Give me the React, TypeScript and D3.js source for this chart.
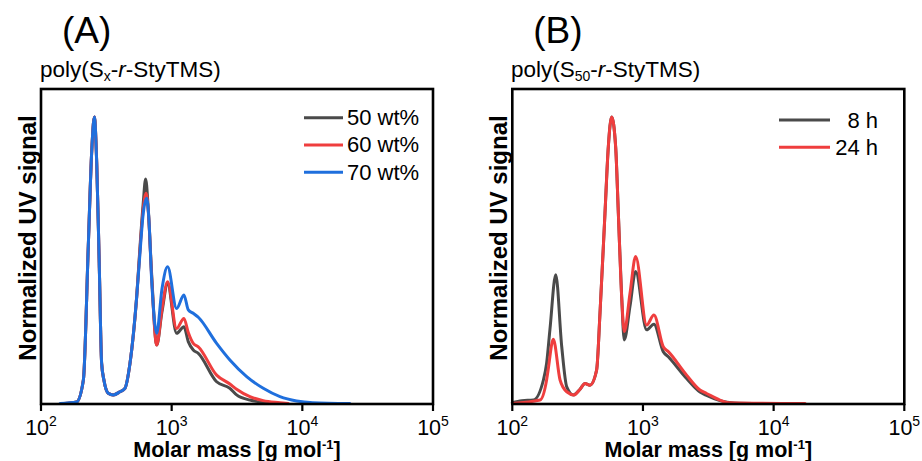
import React from "react";
import * as d3 from "d3";

// ---------- data (molar mass [g/mol], normalized UV signal) ----------
const seriesA_50: [number, number][] = [
  [150, 0], [187, 0.005], [211, 0.082], [230, 0.547], [244, 0.873], [256, 1.0], [267, 0.838],
  [279, 0.489], [291, 0.141], [303, 0.082], [327, 0.036], [357, 0.030], [402, 0.041], [439, 0.053],
  [480, 0.141], [540, 0.373], [571, 0.54], [606, 0.70], [632, 0.784], [660, 0.69], [703, 0.45],
  [768, 0.204], [843, 0.32], [931, 0.417], [1091, 0.245], [1241, 0.268], [1340, 0.216], [1463, 0.187],
  [1599, 0.175], [2208, 0.076], [2790, 0.053], [3141, 0.030], [3971, 0.012], [5023, 0.004], [6742, 0],
];
const seriesA_60: [number, number][] = [
  [150, 0], [187, 0.005], [211, 0.082], [230, 0.547], [244, 0.873], [256, 1.0], [267, 0.838],
  [279, 0.489], [291, 0.141], [303, 0.082], [327, 0.036], [357, 0.030], [402, 0.041], [439, 0.053],
  [480, 0.141], [540, 0.373], [571, 0.53], [606, 0.68], [638, 0.734], [665, 0.66], [703, 0.44],
  [768, 0.204], [843, 0.33], [931, 0.425], [1091, 0.262], [1241, 0.297], [1340, 0.248], [1463, 0.210],
  [1599, 0.198], [2208, 0.099], [2790, 0.068], [3141, 0.050], [3971, 0.024], [5023, 0.010], [6742, 0.003],
  [7800, 0],
];
const seriesA_70: [number, number][] = [
  [140, 0], [187, 0.005], [211, 0.082], [230, 0.547], [244, 0.873], [256, 1.0], [267, 0.838],
  [279, 0.489], [291, 0.141], [303, 0.082], [327, 0.036], [357, 0.030], [402, 0.041], [439, 0.053],
  [480, 0.141], [540, 0.373], [571, 0.52], [606, 0.664], [644, 0.716], [670, 0.64], [703, 0.431],
  [768, 0.245], [843, 0.40], [931, 0.477], [1091, 0.332], [1241, 0.379], [1340, 0.327], [1463, 0.315],
  [1599, 0.301], [2208, 0.210], [2790, 0.152], [3750, 0.094], [5023, 0.053],
  [6742, 0.024], [9040, 0.009], [12050, 0.003], [23100, 0],
];

const seriesB_8h: [number, number][] = [
  [100, 0.003], [118, 0.01], [145, 0.012], [173, 0.082], [183, 0.14], [194, 0.257], [215, 0.449],
  [239, 0.198], [261, 0.058], [293, 0.030], [330, 0.05], [360, 0.070], [393, 0.064], [442, 0.117],
  [469, 0.316], [512, 0.664], [543, 0.896], [576, 1.0], [618, 0.896], [648, 0.664], [687, 0.373],
  [719, 0.222], [796, 0.34], [879, 0.461], [1067, 0.257], [1213, 0.277], [1430, 0.181], [1563, 0.163],
  [2158, 0.087], [2730, 0.04], [3068, 0.028], [3879, 0.01], [5000, 0.002], [8000, 0],
];
const seriesB_24h: [number, number][] = [
  [100, 0], [163, 0.012], [183, 0.082], [188, 0.117], [206, 0.224], [232, 0.082], [261, 0.041],
  [297, 0.030], [330, 0.05], [360, 0.070], [393, 0.064], [442, 0.117], [469, 0.316], [512, 0.664],
  [543, 0.896], [576, 1.0], [618, 0.896], [648, 0.664], [687, 0.373], [719, 0.251], [796, 0.385],
  [879, 0.513], [1067, 0.274], [1213, 0.309], [1430, 0.198], [1563, 0.181], [2158, 0.099],
  [2730, 0.047], [3068, 0.035], [3879, 0.012], [4500, 0.003], [17400, 0],
];

const tickExps = [2, 3, 4, 5];
const legendA = ["50 wt%", "60 wt%", "70 wt%"];
const legendB = ["8 h", "24 h"];

const GRAY = "#4a4a4a";
const RED = "#ef3e3e";
const BLUE = "#1f6fdd";
const FONT = "'Liberation Sans', Arial, sans-serif";

const Y_TOP = 89;
const Y_BOT = 404;

function Panel({ x0, x1, letter, sub, series, legend, legendType }: any) {
  const x = d3.scaleLog().domain([1e2, 1e5]).range([x0, x1]);
  const y = d3.scaleLinear().domain([0, 1.1]).range([403.5, 88.35]);
  const line = d3
    .line<[number, number]>()
    .x((d) => x(d[0]))
    .y((d) => y(d[1]))
    .curve(d3.curveMonotoneX);
  const cx = (x0 + x1) / 2;
  return (
    <g fontFamily={FONT}>
      <text x={x0 + 21} y={43} fontSize={37}>{letter}</text>
      {sub}
      {series.map((s: any, i: number) => (
        <path key={i} d={line(s.data) || ""} fill="none" stroke={s.color} strokeWidth={3}
          strokeLinejoin="round" strokeLinecap="round" />
      ))}
      <rect x={x0} y={Y_TOP} width={x1 - x0} height={Y_BOT - Y_TOP} fill="none" stroke="#000" strokeWidth={2.6} />
      {tickExps.map((e) => (
        <g key={e}>
          <line x1={x(Math.pow(10, e))} x2={x(Math.pow(10, e))} y1={Y_BOT} y2={Y_BOT + 7} stroke="#000" strokeWidth={2.2} />
          <text x={x(Math.pow(10, e))} y={434.5} fontSize={21.5} textAnchor="middle">
            10<tspan dy={-9} fontSize={14}>{e}</tspan>
          </text>
        </g>
      ))}
      <text x={cx} y={456.5} fontSize={21.5} fontWeight="bold" textAnchor="middle">
        Molar mass [g mol<tspan dy={-8} fontSize={13}>-1</tspan><tspan dy={8}>]</tspan>
      </text>
      <text transform={`translate(${x0 - 5.5},238) rotate(-90)`} fontSize={24} fontWeight="bold" textAnchor="middle">
        Normalized UV signal
      </text>
      {legendType === "A"
        ? legend.map((l: string, i: number) => (
            <g key={l}>
              <line x1={304} x2={343} y1={117.7 + i * 27.3} y2={117.7 + i * 27.3} stroke={series[i].color} strokeWidth={3} />
              <text x={347} y={125 + i * 27.3} fontSize={22}>{l}</text>
            </g>
          ))
        : legend.map((l: string, i: number) => (
            <g key={l}>
              <line x1={779} x2={830} y1={120 + i * 27.3} y2={120 + i * 27.3} stroke={series[i].color} strokeWidth={3} />
              <text x={878} y={128 + i * 27.3} fontSize={22} textAnchor="end">{l}</text>
            </g>
          ))}
    </g>
  );
}

export default function App() {
  const subA = (
    <text x={40} y={77} fontSize={22.5} fontFamily={FONT}>
      poly(S<tspan dy={4} fontSize={14}>x</tspan><tspan dy={-4}>-</tspan>
      <tspan fontStyle="italic">r</tspan>-StyTMS)
    </text>
  );
  const subB = (
    <text x={511} y={77} fontSize={22.5} fontFamily={FONT}>
      poly(S<tspan dy={4} fontSize={14}>50</tspan><tspan dy={-4}>-</tspan>
      <tspan fontStyle="italic">r</tspan>-StyTMS)
    </text>
  );
  return (
    <svg width={922} height={461} style={{ position: "absolute", left: 0, top: 0, background: "#fff" }}>
      <rect width={922} height={461} fill="#fff" />
      <Panel
        x0={41}
        x1={433}
        letter="(A)"
        sub={subA}
        legend={legendA}
        legendType="A"
        series={[
          { data: seriesA_50, color: GRAY },
          { data: seriesA_60, color: RED },
          { data: seriesA_70, color: BLUE },
        ]}
      />
      <Panel
        x0={512.3}
        x1={904.3}
        letter="(B)"
        sub={subB}
        legend={legendB}
        legendType="B"
        series={[
          { data: seriesB_8h, color: GRAY },
          { data: seriesB_24h, color: RED },
        ]}
      />
    </svg>
  );
}
